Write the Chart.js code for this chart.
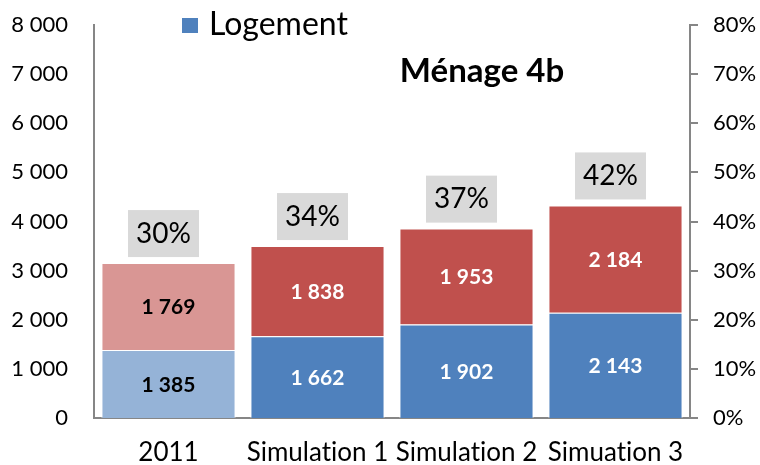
<!DOCTYPE html>
<html>
<head>
<meta charset="utf-8">
<script src="https://cdn.jsdelivr.net/npm/chart.js@4/dist/chart.umd.min.js"></script>
<style>
html,body{margin:0;padding:0;background:#fff;}
#wrap{width:760px;height:465px;}
canvas{font-variant-ligatures:none;}
</style>
</head>
<body>
<div id="wrap"><canvas id="c" width="760" height="465"></canvas></div>
<script>
const categories = ['2011', 'Simulation 1', 'Simulation 2', 'Simuation 3'];
const logement = [1385, 1662, 1902, 2143];
const autres = [1769, 1838, 1953, 2184];
const shareLabels = ['30%', '34%', '37%', '42%'];
const leftMax = 8000, leftStep = 1000;
const rightMax = 0.8, rightStep = 0.1;
const chartTitle = 'Ménage 4b';

const FONT = 'Lato, "Liberation Sans", sans-serif';
const fmt = v => String(Math.round(v)).replace(/\B(?=(\d{3})+(?!\d))/g, ' ');

const textSetup = {
  id: 'textSetup',
  beforeDraw(chart) {
    const ctx = chart.ctx;
    try { ctx.textRendering = 'optimizeSpeed'; } catch (e) {}
  }
};

const overlay = {
  id: 'overlay',
  afterDatasetsDraw(chart) {
    const ctx = chart.ctx;
    ctx.save();
    // value labels inside segments
    chart.data.datasets.forEach((ds, di) => {
      const meta = chart.getDatasetMeta(di);
      meta.data.forEach((el, i) => {
        const p = el.getProps(['x', 'y', 'base'], true);
        ctx.font = 'bold 21px ' + FONT;
        ctx.fillStyle = i === 0 ? '#000' : '#fff';
        ctx.textAlign = 'center';
        ctx.textBaseline = 'middle';
        ctx.fillText(fmt(ds.data[i]), p.x, (p.y + p.base) / 2 + 1);
      });
    });
    // share boxes above the stacks
    const topMeta = chart.getDatasetMeta(chart.data.datasets.length - 1);
    topMeta.data.forEach((el, i) => {
      const p = el.getProps(['x', 'y'], true);
      const w = 71, h = 47;
      const cx = p.x - 5, bottom = p.y - 6;
      ctx.fillStyle = '#d9d9d9';
      ctx.fillRect(cx - w / 2, bottom - h, w, h);
      ctx.fillStyle = '#000';
      ctx.font = '28px ' + FONT;
      ctx.textAlign = 'center';
      ctx.textBaseline = 'middle';
      ctx.fillText(shareLabels[i], cx, bottom - h / 2);
    });
    // title
    ctx.font = 'bold 33px ' + FONT;
    ctx.fillStyle = '#000';
    ctx.textAlign = 'center';
    ctx.textBaseline = 'middle';
    ctx.fillText(chartTitle, 482, 71);
    // legend (first series only)
    const ds0 = chart.data.datasets[0];
    ctx.fillStyle = '#4f81bd';
    ctx.fillRect(182, 18, 16, 15);
    ctx.fillStyle = '#000';
    ctx.font = '32px ' + FONT;
    ctx.textAlign = 'left';
    ctx.textBaseline = 'alphabetic';
    ctx.fillText(ds0.label, 209, 35);
    ctx.restore();
  }
};

const noVPad = s => { s.paddingTop = 0; s.paddingBottom = 0; };

new Chart(document.getElementById('c'), {
  type: 'bar',
  data: {
    labels: categories,
    datasets: [
      {
        label: 'Logement',
        data: logement,
        backgroundColor: ['#95b3d7', '#4f81bd', '#4f81bd', '#4f81bd'],
        borderColor: 'rgba(255,255,255,0.85)',
        borderWidth: 1,
        yAxisID: 'y'
      },
      {
        label: 'Autres',
        data: autres,
        backgroundColor: ['#d99694', '#c0504d', '#c0504d', '#c0504d'],
        borderColor: 'rgba(255,255,255,0.85)',
        borderWidth: 1,
        yAxisID: 'y'
      }
    ]
  },
  options: {
    responsive: false,
    animation: false,
    layout: { padding: { top: 25, left: 0, right: 0, bottom: 0 } },
    datasets: { bar: { barPercentage: 0.9, categoryPercentage: 1.0 } },
    plugins: { legend: { display: false }, tooltip: { enabled: false } },
    scales: {
      x: {
        stacked: true,
        grid: { display: false, drawTicks: false },
        border: { display: true, color: '#868686', width: 2 },
        ticks: { color: '#000', font: { family: FONT, size: 26 }, padding: 19, maxRotation: 0, autoSkip: false },
        afterFit: s => { s.height = 47; }
      },
      y: {
        stacked: true,
        position: 'left',
        min: 0, max: leftMax,
        grid: { display: false, drawTicks: false },
        border: { display: true, color: '#868686', width: 2 },
        ticks: { stepSize: leftStep, color: '#000', font: { family: FONT, size: 22 }, padding: 26, callback: v => fmt(v) },
        afterFit: s => { s.width = 94; noVPad(s); }
      },
      y1: {
        position: 'right',
        min: 0, max: rightMax,
        grid: { display: true, drawOnChartArea: false, drawTicks: true, tickLength: 8, color: '#868686', lineWidth: 2 },
        border: { display: true, color: '#868686', width: 2 },
        ticks: { stepSize: rightStep, color: '#000', font: { family: FONT, size: 22 }, padding: 15, callback: v => Math.round(v * 100) + '%' },
        afterFit: s => { s.width = 70; noVPad(s); }
      }
    }
  },
  plugins: [textSetup, overlay]
});
</script>
</body>
</html>
